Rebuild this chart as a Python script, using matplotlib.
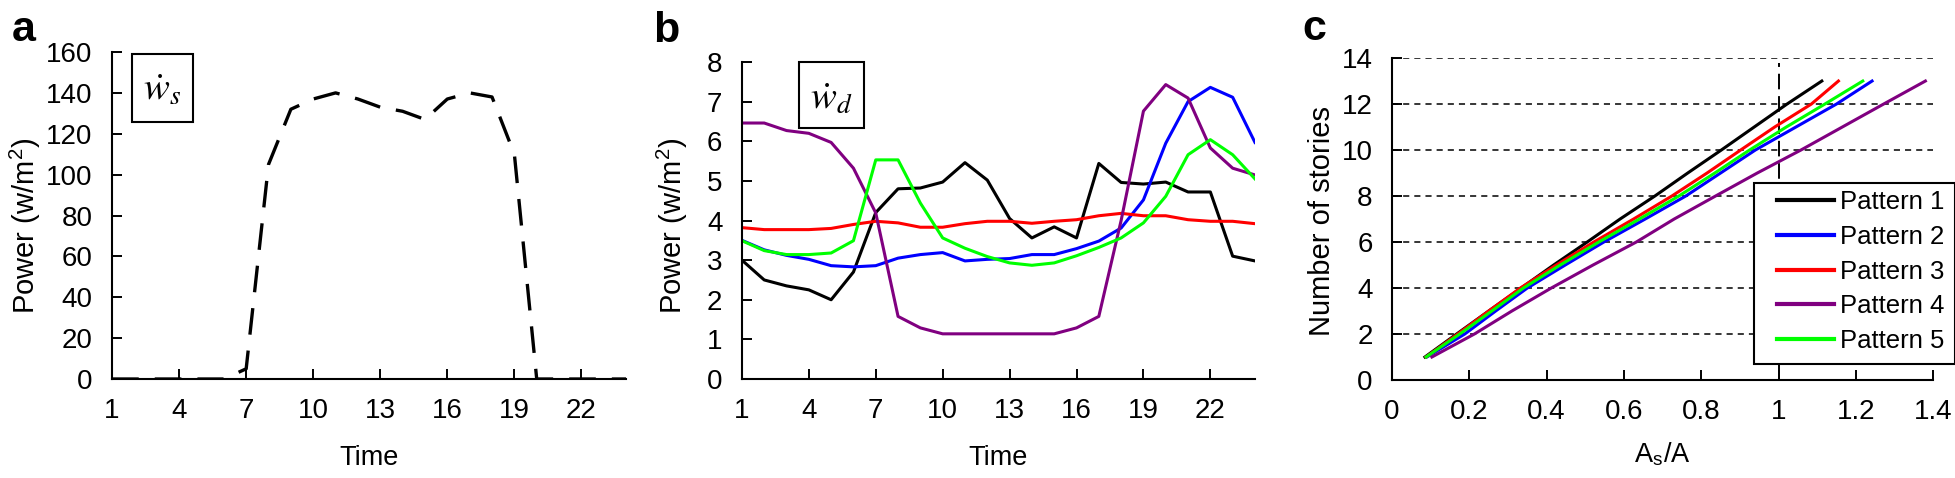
import numpy as np
import matplotlib.pyplot as plt
from matplotlib.patches import Rectangle

plt.rcParams['font.family'] = ['Liberation Sans', 'DejaVu Sans']
plt.rcParams['mathtext.fontset'] = 'stix'

# ---- data ----
hours = np.arange(1, 25)
hour_ticks = [1, 4, 7, 10, 13, 16, 19, 22]

# (a) solar power w_s
ws_power = [0, 0, 0, 0, 0, 0, 5, 105, 132, 137, 140, 137, 133, 131, 127, 137,
            140, 138, 110, 0, 0, 0, 0, 0]

# (b) demand power w_d, five patterns
wd_pattern1 = [3.0, 2.5, 2.35, 2.25, 2.0, 2.7, 4.2, 4.8, 4.82, 4.97, 5.46, 5.02,
               4.05, 3.56, 3.84, 3.56, 5.44, 4.96, 4.92, 4.97, 4.72, 4.72, 3.1, 2.98]
wd_pattern2 = [3.5, 3.26, 3.12, 3.02, 2.86, 2.83, 2.86, 3.05, 3.14, 3.19, 2.98, 3.02,
               3.04, 3.14, 3.14, 3.29, 3.48, 3.81, 4.52, 5.95, 7.0, 7.36, 7.11, 5.97]
wd_pattern3 = [3.82, 3.77, 3.77, 3.77, 3.8, 3.9, 3.98, 3.94, 3.83, 3.83, 3.92, 3.98,
               3.98, 3.93, 3.98, 4.02, 4.12, 4.18, 4.12, 4.12, 4.02, 3.98, 3.98, 3.92]
wd_pattern4 = [6.46, 6.46, 6.27, 6.2, 5.97, 5.32, 4.19, 1.58, 1.29, 1.14, 1.14, 1.14,
               1.14, 1.14, 1.14, 1.29, 1.58, 4.0, 6.76, 7.43, 7.09, 5.83, 5.32, 5.15]
wd_pattern5 = [3.49, 3.24, 3.14, 3.14, 3.18, 3.49, 5.53, 5.53, 4.44, 3.56, 3.3, 3.09,
               2.93, 2.87, 2.93, 3.11, 3.32, 3.56, 3.94, 4.61, 5.66, 6.04, 5.66, 5.05]

# (c) number of stories vs A_s/A
stories = np.arange(1, 14)
ratio_pattern1 = [0.085, 0.167, 0.250, 0.334, 0.418, 0.505, 0.590, 0.680, 0.765,
                  0.852, 0.937, 1.022, 1.112]
ratio_pattern2 = [0.090, 0.188, 0.268, 0.350, 0.448, 0.548, 0.655, 0.760, 0.850,
                  0.940, 1.045, 1.150, 1.242]
ratio_pattern3 = [0.088, 0.170, 0.250, 0.332, 0.425, 0.522, 0.625, 0.724, 0.815,
                  0.902, 0.990, 1.085, 1.155]
ratio_pattern4 = [0.103, 0.213, 0.310, 0.412, 0.520, 0.632, 0.730, 0.837, 0.945,
                  1.058, 1.165, 1.272, 1.380]
ratio_pattern5 = [0.088, 0.175, 0.258, 0.340, 0.435, 0.535, 0.640, 0.742, 0.835,
                  0.925, 1.020, 1.120, 1.218]

pattern_names = ['Pattern 1', 'Pattern 2', 'Pattern 3', 'Pattern 4', 'Pattern 5']
pattern_colors = ['#000000', '#0000ff', '#ff0000', '#800080', '#00ff00']

power_label = r'Power (w/m$^\mathregular{2}$)'


def style_axes(ax):
    for side in ['top', 'right']:
        ax.spines[side].set_visible(False)
    for side in ['left', 'bottom']:
        ax.spines[side].set_linewidth(1.5)
    ax.tick_params(direction='in', length=7.5, width=1.4, labelsize=20, pad=14)


fig = plt.figure(figsize=(19.56, 4.78), dpi=100)

# ---- panel a ----
ax1 = fig.add_axes([0.0573, 0.2071, 0.2628, 0.6841])
ax1.plot(hours, ws_power, color='k', lw=2.4, ls=(0, (8, 4.8)))
ax1.set_xlim(1, 24)
ax1.set_ylim(0, 160)
ax1.set_xticks(hour_ticks)
ax1.set_yticks(np.arange(0, 161, 20))
style_axes(ax1)
ax1.set_xlabel('Time', fontsize=19.5, labelpad=15)
ax1.set_ylabel(power_label, fontsize=21, labelpad=2)
ax1.yaxis.label.set_y(0.468)
ax1.add_patch(Rectangle((0.039, 0.786), 0.119, 0.208, transform=ax1.transAxes,
                        fill=False, ec='k', lw=1.5, clip_on=False))
ax1.text(0.0985, 0.885, r'$\dot{w}_s$', transform=ax1.transAxes, fontsize=28,
         ha='center', va='center')

# ---- panel b ----
ax2 = fig.add_axes([0.3793, 0.2071, 0.2623, 0.6632])
wd_series = [wd_pattern1, wd_pattern2, wd_pattern3, wd_pattern4, wd_pattern5]
for vals, col in zip(wd_series, pattern_colors):
    ax2.plot(hours, vals, color=col, lw=2.2)
ax2.set_xlim(1, 24)
ax2.set_ylim(0, 8)
ax2.set_xticks(hour_ticks)
ax2.set_yticks(np.arange(0, 9, 1))
style_axes(ax2)
ax2.set_xlabel('Time', fontsize=19.5, labelpad=15)
ax2.set_ylabel(power_label, fontsize=21, labelpad=12)
ax2.yaxis.label.set_y(0.483)
ax2.add_patch(Rectangle((0.111, 0.792), 0.127, 0.208, transform=ax2.transAxes,
                        fill=False, ec='k', lw=1.5, clip_on=False))
ax2.text(0.1745, 0.885, r'$\dot{w}_d$', transform=ax2.transAxes, fontsize=28,
         ha='center', va='center')

# ---- panel c ----
ax3 = fig.add_axes([0.7117, 0.2050, 0.2766, 0.6736])
ratio_series = [ratio_pattern1, ratio_pattern2, ratio_pattern3, ratio_pattern4, ratio_pattern5]
handles = []
for vals, col, name in zip(ratio_series, pattern_colors, pattern_names):
    ln, = ax3.plot(vals, stories, color=col, lw=2.2, label=name)
    handles.append(ln)
ax3.set_xlim(0, 1.4)
ax3.set_ylim(0, 14)
ax3.set_xticks(np.arange(0, 1.41, 0.2))
ax3.set_xticklabels(['0', '0.2', '0.4', '0.6', '0.8', '1', '1.2', '1.4'])
ax3.set_yticks(np.arange(0, 15, 2))
ax3.yaxis.grid(True, color='k', lw=1.1, ls=(0, (4, 3.3)))
ax3.set_axisbelow(True)
ax3.axvline(1.0, ymax=0.985, color='k', lw=1.4, ls=(0, (8, 3.5)), zorder=1)
style_axes(ax3)
ax3.set_xlabel(r'A$_\mathregular{s}$/A', fontsize=19.5, labelpad=11)
ax3.set_ylabel('Number of stories', fontsize=21, labelpad=4)
ax3.yaxis.label.set_y(0.494)

# legend frame drawn separately so the entries can sit with a wider left margin
fig.add_artist(Rectangle((0.8967, 0.2385), 0.1028, 0.3787, transform=fig.transFigure,
                         facecolor='white', edgecolor='k', lw=1.5, zorder=4))
leg = fig.legend(handles, pattern_names, loc='upper left',
                 bbox_to_anchor=(0.9085, 0.6025), borderaxespad=0, fontsize=18.5,
                 frameon=False, handlelength=2.2, handletextpad=0.25,
                 labelspacing=0.42, borderpad=0)
leg.set_zorder(5)
for line in leg.get_lines():
    line.set_linewidth(3)

# panel letters
fig.text(0.0061, 0.914, 'a', fontsize=31, fontweight='bold', va='baseline')
fig.text(0.3338, 0.912, 'b', fontsize=31, fontweight='bold', va='baseline')
fig.text(0.6656, 0.916, 'c', fontsize=31, fontweight='bold', va='baseline')

fig.savefig('out.png', dpi=100)
